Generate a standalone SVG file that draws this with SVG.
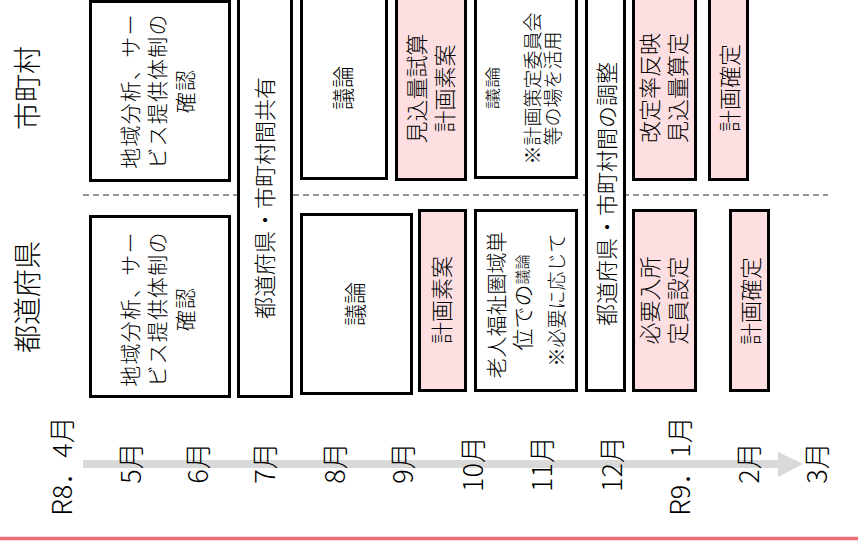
<svg xmlns="http://www.w3.org/2000/svg" width="858" height="546" viewBox="0 0 858 546">
<style>
.box{fill:#ffffff;stroke:#000000;stroke-width:3}
.pink{fill:#fddfe2}
.t{font-family:"Noto Sans CJK JP","Noto Sans",sans-serif;font-weight:300;font-size:22px;fill:#000000;text-anchor:middle;dominant-baseline:central}
.s21{font-size:21px;letter-spacing:1.2px}
.s19{font-size:19px}
.lbl{font-size:28px}
.mon{font-size:27px}
.sep{stroke:#707070;stroke-width:1.6;stroke-dasharray:6 4;fill:none}
</style>
<rect x="0" y="0" width="858" height="546" fill="#ffffff"/>
<g id="separator">
  <line class="sep" x1="83" y1="195" x2="828" y2="195"/>
</g>
<g id="connectors">
  <rect x="83" y="460" width="696" height="8" fill="#d9d9d9"/>
  <polygon points="778,452 803,464 778,477" fill="#d9d9d9"/>
</g>
<g id="lane-labels">
  <text class="t lbl" transform="translate(26,88) rotate(-90)">市町村</text>
  <text class="t lbl" transform="translate(26,297) rotate(-90)">都道府県</text>
</g>
<g id="months">
  <text class="t mon" transform="translate(60,466) rotate(-90)">R8．4月</text>
  <text class="t mon" transform="translate(129,463) rotate(-90)">5月</text>
  <text class="t mon" transform="translate(196,463) rotate(-90)">6月</text>
  <text class="t mon" transform="translate(263,463) rotate(-90)">7月</text>
  <text class="t mon" transform="translate(333,463) rotate(-90)">8月</text>
  <text class="t mon" transform="translate(401,463) rotate(-90)">9月</text>
  <text class="t mon" transform="translate(471,464) rotate(-90)">10月</text>
  <text class="t mon" transform="translate(540,464) rotate(-90)">11月</text>
  <text class="t mon" transform="translate(610,464) rotate(-90)">12月</text>
  <text class="t mon" transform="translate(678,466) rotate(-90)">R9．1月</text>
  <text class="t mon" transform="translate(747,463) rotate(-90)">2月</text>
  <text class="t mon" transform="translate(815,463) rotate(-90)">3月</text>
</g>
<g id="node-m-analysis">
  <rect class="box" x="90.5" y="1.5" width="139" height="179"/>
  <text class="t s21" transform="translate(156,91) rotate(-90)"><tspan x="0" y="-27.5">地域分析、サー</tspan><tspan x="0" y="0">ビス提供体制の</tspan><tspan x="0" y="27.5">確認</tspan></text>
</g>
<g id="node-p-analysis">
  <rect class="box" x="90.5" y="216.5" width="139" height="180"/>
  <text class="t s21" transform="translate(156,309) rotate(-90)"><tspan x="0" y="-27.5">地域分析、サー</tspan><tspan x="0" y="0">ビス提供体制の</tspan><tspan x="0" y="27.5">確認</tspan></text>
</g>
<g id="node-share">
  <rect class="box" x="238.5" y="-2" width="53" height="398.5"/>
  <text class="t" transform="translate(263,198) rotate(-90)">都道府県・市町村間共有</text>
</g>
<g id="node-m-discuss">
  <rect class="box" x="301.5" y="-2" width="85" height="180.5"/>
  <text class="t" transform="translate(341,88) rotate(-90)">議論</text>
</g>
<g id="node-p-discuss">
  <rect class="box" x="301.5" y="214.5" width="110" height="179"/>
  <text class="t" transform="translate(353,304) rotate(-90)">議論</text>
</g>
<g id="node-m-estimate">
  <rect class="box pink" x="396.5" y="-2" width="69" height="181.5"/>
  <text class="t" transform="translate(429,88.5) rotate(-90)"><tspan x="0" y="-13.75">見込量試算</tspan><tspan x="0" y="13.75">計画素案</tspan></text>
</g>
<g id="node-p-draft">
  <rect class="box pink" x="419.5" y="210.5" width="46" height="180"/>
  <text class="t" transform="translate(440,300) rotate(-90)">計画素案</text>
</g>
<g id="node-m-committee">
  <rect class="box" x="475.5" y="-2" width="101" height="179.5"/>
  <text class="t" transform="translate(491,88) rotate(-90)" style="font-size:15px" textLength="43" lengthAdjust="spacingAndGlyphs">議論</text>
  <text class="t s19" transform="translate(541,88.5) rotate(-90)"><tspan x="0" y="-10">※計画策定委員会</tspan><tspan x="0" y="10">等の場を活用</tspan></text>
</g>
<g id="node-p-area">
  <rect class="box" x="475.5" y="210.5" width="101" height="180"/>
  <text class="t" transform="translate(495,305) rotate(-90)" style="font-size:21px">老人福祉圏域単</text>
  <text class="t" transform="translate(521,302.5) rotate(-90)">位での<tspan style="font-size:15px">議論</tspan></text>
  <text class="t s19" transform="translate(555,300) rotate(-90)">※必要に応じて</text>
</g>
<g id="node-adjust">
  <rect class="box" x="586.5" y="-2" width="38" height="392.5"/>
  <text class="t" transform="translate(605,194) rotate(-90)">都道府県・市町村間の調整</text>
</g>
<g id="node-m-rate">
  <rect class="box pink" x="633.5" y="-2" width="62" height="181.5"/>
  <text class="t" transform="translate(662,88) rotate(-90)"><tspan x="0" y="-14">改定率反映</tspan><tspan x="0" y="14">見込量算定</tspan></text>
</g>
<g id="node-p-capacity">
  <rect class="box pink" x="633.5" y="210.5" width="62" height="180"/>
  <text class="t" transform="translate(662,300.5) rotate(-90)"><tspan x="0" y="-14">必要入所</tspan><tspan x="0" y="14">定員設定</tspan></text>
</g>
<g id="node-m-final">
  <rect class="box pink" x="709.5" y="-2" width="38" height="181.5"/>
  <text class="t" transform="translate(728,88) rotate(-90)">計画確定</text>
</g>
<g id="node-p-final">
  <rect class="box pink" x="730.5" y="210.5" width="38" height="180"/>
  <text class="t" transform="translate(749,301) rotate(-90)">計画確定</text>
</g>
<g id="footer">
  <line x1="0" y1="538.5" x2="858" y2="538.5" stroke="#f26d78" stroke-width="3.5"/>
</g>
</svg>
